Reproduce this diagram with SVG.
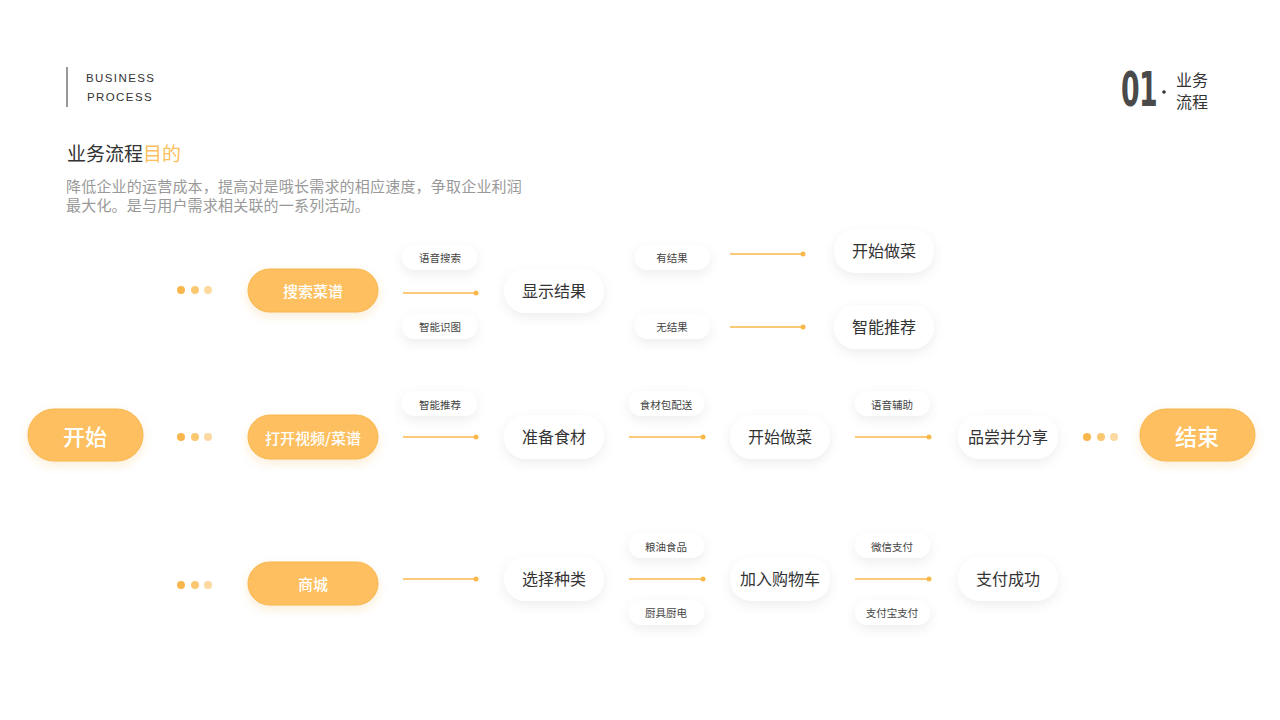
<svg xmlns="http://www.w3.org/2000/svg" width="1280" height="720" viewBox="0 0 1280 720">
<defs>
<filter id="sh" x="-30%" y="-50%" width="160%" height="220%">
<feDropShadow dx="0" dy="4" stdDeviation="6" flood-color="#000" flood-opacity="0.07"/>
</filter>
<filter id="sho" x="-30%" y="-50%" width="160%" height="220%">
<feDropShadow dx="0" dy="4" stdDeviation="5" flood-color="#E8A030" flood-opacity="0.18"/>
</filter>
<style>
text{font-family:"Noto Sans CJK SC","Noto Sans",sans-serif;text-anchor:middle;dominant-baseline:central}
.o{fill:#FDBF5E;stroke:#F8B64C;stroke-width:1;filter:url(#sho)}
.ot{fill:#fff;font-size:15px;font-weight:500}
.big{font-size:22px}
.w{fill:#fff;filter:url(#sh)}
.wt{fill:#333;font-size:16px}
.s{fill:#fff;filter:url(#sh)}
.st{fill:#444;font-size:10.5px}
.ln{stroke:#F9B84A;stroke-width:1.5;fill:none}
.ld{fill:#F9B84A}
.d1{fill:#F8B64C}.d2{fill:#FBC872}.d3{fill:#FCD9A0}
</style>
</defs>
<rect width="1280" height="720" fill="#fff"/>
<!-- header -->
<rect x="66" y="67" width="2" height="40" fill="#999"/>
<text x="86" y="78" style="text-anchor:start;font-family:'Liberation Sans',sans-serif;font-size:11.5px;letter-spacing:1.4px;fill:#333">BUSINESS</text>
<text x="87" y="97" style="text-anchor:start;font-family:'Liberation Sans',sans-serif;font-size:11.5px;letter-spacing:1.4px;fill:#333">PROCESS</text>
<g id="pagenum">
<text x="1139" y="89" style="font-family:'DejaVu Sans Condensed','Liberation Sans Narrow',sans-serif;font-size:48px;font-weight:bold;fill:#4a4a4a;letter-spacing:-1px" transform="translate(1139 89) scale(0.62 1) translate(-1139 -89)">01</text>
<circle cx="1164" cy="92" r="1.8" fill="#333"/>
<text x="1192" y="79" style="font-size:16px;fill:#333">业务</text>
<text x="1192" y="101" style="font-size:16px;fill:#333">流程</text>
</g>
<text x="67" y="152" style="text-anchor:start;font-size:19px;fill:#333">业务流程<tspan fill="#FDBF5E">目的</tspan></text>
<text x="66" y="185" style="text-anchor:start;font-size:15px;letter-spacing:0.2px;fill:#999">降低企业的运营成本，提高对是哦长需求的相应速度，争取企业利润</text>
<text x="66" y="204" style="text-anchor:start;font-size:15px;letter-spacing:0.2px;fill:#999">最大化。是与用户需求相关联的一系列活动。</text>

<!-- connectors -->
<g id="connectors">
<path class="ln" d="M403 293H476M730 254H803M730 327H803M403 437H476M629 437H703M855 437H929M403 579H476M629 579H703M855 579H929"/>
<circle class="ld" cx="476" cy="293" r="2.5"/>
<circle class="ld" cx="803" cy="254" r="2.5"/>
<circle class="ld" cx="803" cy="327" r="2.5"/>
<circle class="ld" cx="476" cy="437" r="2.5"/>
<circle class="ld" cx="703" cy="437" r="2.5"/>
<circle class="ld" cx="929" cy="437" r="2.5"/>
<circle class="ld" cx="476" cy="579" r="2.5"/>
<circle class="ld" cx="703" cy="579" r="2.5"/>
<circle class="ld" cx="929" cy="579" r="2.5"/>
<g id="dots">
<circle class="d1" cx="181" cy="290" r="4"/><circle class="d2" cx="195" cy="290" r="4"/><circle class="d3" cx="208" cy="290" r="4"/>
<circle class="d1" cx="181" cy="437" r="4"/><circle class="d2" cx="195" cy="437" r="4"/><circle class="d3" cx="208" cy="437" r="4"/>
<circle class="d1" cx="181" cy="585" r="4"/><circle class="d2" cx="195" cy="585" r="4"/><circle class="d3" cx="208" cy="585" r="4"/>
<circle class="d1" cx="1087" cy="437" r="4"/><circle class="d2" cx="1101" cy="437" r="4"/><circle class="d3" cx="1114" cy="437" r="4"/>
</g>
</g>

<!-- orange nodes -->
<g id="start"><rect class="o" x="28" y="409" width="115" height="52" rx="26"/><text class="ot big" x="85" y="435">开始</text></g>
<g id="end"><rect class="o" x="1140" y="409" width="115" height="52" rx="26"/><text class="ot big" x="1197" y="435">结束</text></g>
<g id="search"><rect class="o" x="248" y="269" width="130" height="43" rx="21.5"/><text class="ot" x="313" y="290">搜索菜谱</text></g>
<g id="video"><rect class="o" x="248" y="415" width="130" height="44" rx="22"/><text class="ot" x="313" y="437">打开视频/菜谱</text></g>
<g id="mall"><rect class="o" x="248" y="562" width="130" height="43" rx="21.5"/><text class="ot" x="313" y="583">商城</text></g>

<!-- white nodes -->
<g id="n-show"><rect class="w" x="504" y="269" width="100" height="44" rx="22"/><text class="wt" x="554" y="290">显示结果</text></g>
<g id="n-cook1"><rect class="w" x="834" y="229" width="100" height="44" rx="22"/><text class="wt" x="884" y="250">开始做菜</text></g>
<g id="n-rec"><rect class="w" x="834" y="305" width="100" height="44" rx="22"/><text class="wt" x="884" y="326">智能推荐</text></g>
<g id="n-prep"><rect class="w" x="504" y="415" width="100" height="44" rx="22"/><text class="wt" x="554" y="436">准备食材</text></g>
<g id="n-cook2"><rect class="w" x="730" y="415" width="100" height="44" rx="22"/><text class="wt" x="780" y="436">开始做菜</text></g>
<g id="n-share"><rect class="w" x="958" y="415" width="100" height="44" rx="22"/><text class="wt" x="1008" y="436">品尝并分享</text></g>
<g id="n-choose"><rect class="w" x="504" y="557" width="100" height="44" rx="22"/><text class="wt" x="554" y="578">选择种类</text></g>
<g id="n-cart"><rect class="w" x="730" y="557" width="100" height="44" rx="22"/><text class="wt" x="780" y="578">加入购物车</text></g>
<g id="n-paid"><rect class="w" x="958" y="557" width="100" height="44" rx="22"/><text class="wt" x="1008" y="578">支付成功</text></g>

<!-- small labels -->
<g id="l1"><rect class="s" x="402" y="245" width="75" height="25" rx="12.5"/><text class="st" x="440" y="257">语音搜索</text></g>
<g id="l2"><rect class="s" x="402" y="314" width="75" height="25" rx="12.5"/><text class="st" x="440" y="326">智能识图</text></g>
<g id="l3"><rect class="s" x="635" y="245" width="75" height="25" rx="12.5"/><text class="st" x="672" y="257">有结果</text></g>
<g id="l4"><rect class="s" x="635" y="314" width="75" height="25" rx="12.5"/><text class="st" x="672" y="326">无结果</text></g>
<g id="l5"><rect class="s" x="402" y="391" width="75" height="25" rx="12.5"/><text class="st" x="440" y="404">智能推荐</text></g>
<g id="l6"><rect class="s" x="629" y="391" width="75" height="25" rx="12.5"/><text class="st" x="666" y="404">食材包配送</text></g>
<g id="l7"><rect class="s" x="855" y="391" width="75" height="25" rx="12.5"/><text class="st" x="892" y="404">语音辅助</text></g>
<g id="l8"><rect class="s" x="629" y="533" width="75" height="25" rx="12.5"/><text class="st" x="666" y="546">粮油食品</text></g>
<g id="l9"><rect class="s" x="629" y="600" width="75" height="25" rx="12.5"/><text class="st" x="666" y="612">厨具厨电</text></g>
<g id="l10"><rect class="s" x="855" y="533" width="75" height="25" rx="12.5"/><text class="st" x="892" y="546">微信支付</text></g>
<g id="l11"><rect class="s" x="855" y="600" width="75" height="25" rx="12.5"/><text class="st" x="892" y="612">支付宝支付</text></g>
</svg>
